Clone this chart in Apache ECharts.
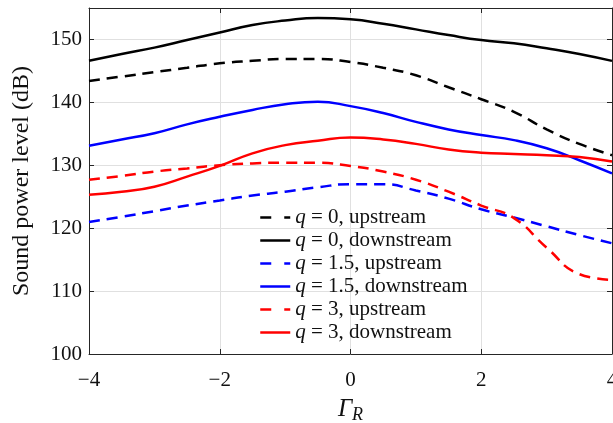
<!DOCTYPE html>
<html>
<head>
<meta charset="utf-8">
<script src="https://cdn.jsdelivr.net/npm/echarts@6/dist/echarts.min.js"></script>
<style>
  html, body { margin: 0; padding: 0; background: #fff; overflow: hidden; }
  #chart { width: 613px; height: 423px; }
</style>
</head>
<body>
<div id="chart"></div>
<script>
// Gamma_R sample points
const gammaR = [-4, -3.5, -3, -2.5, -2, -1.5, -1, -0.5, 0, 0.5, 1, 1.5, 2, 2.5, 3, 3.5, 4]

const up0 = [143.4, 144.1, 144.8, 145.5, 146.2, 146.6, 146.9, 146.9, 146.4, 145.5, 144.3, 142.4, 140.5, 138.5, 135.7, 133.4, 131.6]
const down0 = [146.6, 147.7, 148.7, 149.9, 151.1, 152.3, 153.0, 153.4, 153.2, 152.5, 151.6, 150.7, 149.9, 149.4, 148.6, 147.7, 146.6]
const up15 = [121.0, 121.8, 122.7, 123.6, 124.4, 125.2, 125.8, 126.5, 127.0, 127.0, 126.0, 124.7, 123.0, 121.7, 120.3, 118.9, 117.6]
const down15 = [133.1, 134.1, 135.1, 136.5, 137.7, 138.8, 139.7, 140.1, 139.4, 138.3, 136.9, 135.7, 134.8, 134.0, 132.7, 130.8, 128.7]
const up3 = [127.7, 128.3, 129.0, 129.5, 130.0, 130.3, 130.4, 130.4, 129.9, 129.0, 127.7, 125.8, 123.6, 121.6, 116.9, 112.7, 111.8]
const down3 = [125.3, 125.8, 126.6, 128.2, 129.9, 131.9, 133.2, 133.9, 134.4, 134.1, 133.4, 132.5, 132.0, 131.8, 131.6, 131.3, 130.6]

const seriesNames = ['q = 0, upstream', 'q = 0, downstream', 'q = 1.5, upstream', 'q = 1.5, downstream', 'q = 3, upstream', 'q = 3, downstream']
const seriesData = [up0, down0, up15, down15, up3, down3]
const seriesColors = ['#000000', '#000000', '#0000ff', '#0000ff', '#ff0000', '#ff0000']
const seriesDashed = [true, false, true, false, true, false]

const serif = 'Liberation Serif, Times New Roman, serif'

function pairs (ys) {
  return gammaR.map((x, i) => [x, ys[i]])
}

let chart = echarts.init(document.getElementById('chart'))

let series = seriesNames.map((name, i) => ({
  name: name,
  type: 'line',
  smooth: true,
  symbol: 'none',
  data: pairs(seriesData[i]),
  lineStyle: {
    color: seriesColors[i],
    width: 2.5,
    type: seriesDashed[i] ? [11, 7] : 'solid'
  },
  itemStyle: { color: seriesColors[i] },
  xAxisIndex: 0,
  yAxisIndex: 0
}))

let legendData = seriesNames.map((name, i) => ({
  name: name,
  itemStyle: { opacity: 0 },
  lineStyle: {
    color: seriesColors[i],
    width: 2.5,
    type: seriesDashed[i] ? [11, 13] : 'solid'
  }
}))

let axisLine = { show: true, onZero: false, lineStyle: { color: '#262626', width: 1 } }
let inTick = { show: true, inside: true, length: 5, lineStyle: { color: '#262626' } }

let option = {
  animation: false,
  grid: { left: 89, right: 1, top: 8, bottom: 69, outerBoundsMode: 'none', containLabel: false },
  legend: {
    orient: 'vertical',
    left: 259,
    top: 207,
    padding: 0,
    itemWidth: 30,
    itemHeight: 12,
    itemGap: 2,
    data: legendData,
    formatter: name => '{i|q}' + name.slice(1),
    textStyle: {
      fontFamily: serif,
      fontSize: 21,
      color: '#111',
      lineHeight: 21,
      rich: {
        i: { fontFamily: serif, fontStyle: 'italic', fontSize: 21, color: '#111', lineHeight: 21 }
      }
    }
  },
  xAxis: [{
    type: 'value',
    min: -4,
    max: 4,
    interval: 2,
    name: '{g|Γ}{s|R}',
    nameLocation: 'middle',
    nameGap: 40,
    nameTextStyle: {
      rich: {
        g: { fontFamily: serif, fontStyle: 'italic', fontSize: 25, color: '#111' },
        s: { fontFamily: serif, fontStyle: 'italic', fontSize: 18, color: '#111', padding: [12, 0, 0, 0] }
      }
    },
    axisLine: axisLine,
    axisTick: inTick,
    axisLabel: {
      fontFamily: serif,
      fontSize: 21,
      color: '#111',
      margin: 16,
      formatter: v => v < 0 ? '\u2212' + (-v) : String(v)
    },
    splitLine: { show: true, lineStyle: { color: '#e0e0e0', width: 1 } }
  }, {
    type: 'value',
    position: 'top',
    min: -4,
    max: 4,
    interval: 2,
    axisLine: axisLine,
    axisTick: inTick,
    axisLabel: { show: false },
    splitLine: { show: false }
  }],
  yAxis: [{
    type: 'value',
    min: 100,
    max: 155,
    interval: 10,
    name: 'Sound power level (dB)',
    nameLocation: 'middle',
    nameGap: 55,
    nameTextStyle: { fontFamily: serif, fontSize: 24, color: '#111' },
    axisLine: axisLine,
    axisTick: inTick,
    axisLabel: {
      fontFamily: serif,
      fontSize: 21,
      color: '#111',
      margin: 7,
      showMaxLabel: false
    },
    splitLine: { show: true, lineStyle: { color: '#e0e0e0', width: 1 } }
  }, {
    type: 'value',
    position: 'right',
    min: 100,
    max: 155,
    interval: 10,
    axisLine: axisLine,
    axisTick: inTick,
    axisLabel: { show: false },
    splitLine: { show: false }
  }],
  series: series
}

chart.setOption(option)
</script>
</body>
</html>
